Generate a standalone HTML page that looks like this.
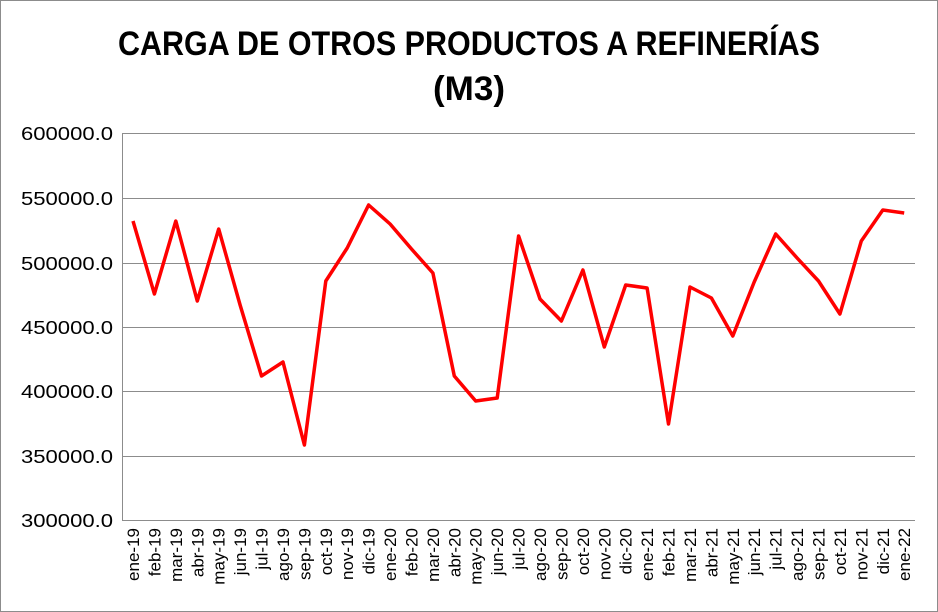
<!DOCTYPE html>
<html><head><meta charset="utf-8"><style>
body{margin:0;background:#fff;}
svg{display:block;font-family:"Liberation Sans",Arial,sans-serif;}
</style></head><body>
<svg width="938" height="612" xmlns="http://www.w3.org/2000/svg">
<rect x="0.5" y="0.5" width="937" height="611" fill="#fff" stroke="#8c8c8c"/>
<text x="469" y="55" text-anchor="middle" font-size="34" font-weight="bold" textLength="702" lengthAdjust="spacingAndGlyphs">CARGA DE OTROS PRODUCTOS A REFINERÍAS</text>
<text x="469" y="100" text-anchor="middle" font-size="34" font-weight="bold" textLength="72" lengthAdjust="spacingAndGlyphs">(M3)</text>
<g stroke="#8c8c8c" stroke-width="1">
<line x1="122" y1="133.5" x2="915" y2="133.5"/>
<line x1="122" y1="198.5" x2="915" y2="198.5"/>
<line x1="122" y1="263.5" x2="915" y2="263.5"/>
<line x1="122" y1="327.5" x2="915" y2="327.5"/>
<line x1="122" y1="391.5" x2="915" y2="391.5"/>
<line x1="122" y1="456.5" x2="915" y2="456.5"/>
<line x1="122" y1="520.5" x2="915" y2="520.5"/>
<line x1="122.5" y1="133" x2="122.5" y2="520"/>
</g>
<g font-size="18" text-anchor="end">
<text x="113" y="140" textLength="92" lengthAdjust="spacingAndGlyphs">600000.0</text>
<text x="113" y="205" textLength="92" lengthAdjust="spacingAndGlyphs">550000.0</text>
<text x="113" y="270" textLength="92" lengthAdjust="spacingAndGlyphs">500000.0</text>
<text x="113" y="334" textLength="92" lengthAdjust="spacingAndGlyphs">450000.0</text>
<text x="113" y="398" textLength="92" lengthAdjust="spacingAndGlyphs">400000.0</text>
<text x="113" y="463" textLength="92" lengthAdjust="spacingAndGlyphs">350000.0</text>
<text x="113" y="527" textLength="92" lengthAdjust="spacingAndGlyphs">300000.0</text>
</g>
<polyline fill="none" stroke="#ff0000" stroke-width="3.5" stroke-linejoin="round" points="133,221 154.4,294 175.8,221 197.3,301 218.7,229 240.1,305 261.5,376 283,362 304.4,445 325.8,281 347.2,248 368.6,205 390.1,224 411.5,249 432.9,273 454.3,376 475.7,401 497.2,398 518.6,236 540,299 561.4,321 582.9,270 604.3,347 625.7,285 647.1,288 668.5,424 690,287 711.4,298 732.8,336 754.2,282 775.7,234 797.1,258 818.5,281 839.9,314 861.3,241 882.8,210 904.2,213"/>
<g font-size="17" text-anchor="end">
<text transform="translate(139,528) rotate(-90)">ene-19</text>
<text transform="translate(160.4,528) rotate(-90)">feb-19</text>
<text transform="translate(181.8,528) rotate(-90)">mar-19</text>
<text transform="translate(203.3,528) rotate(-90)">abr-19</text>
<text transform="translate(224.7,528) rotate(-90)">may-19</text>
<text transform="translate(246.1,528) rotate(-90)">jun-19</text>
<text transform="translate(267.5,528) rotate(-90)">jul-19</text>
<text transform="translate(289,528) rotate(-90)">ago-19</text>
<text transform="translate(310.4,528) rotate(-90)">sep-19</text>
<text transform="translate(331.8,528) rotate(-90)">oct-19</text>
<text transform="translate(353.2,528) rotate(-90)">nov-19</text>
<text transform="translate(374.6,528) rotate(-90)">dic-19</text>
<text transform="translate(396.1,528) rotate(-90)">ene-20</text>
<text transform="translate(417.5,528) rotate(-90)">feb-20</text>
<text transform="translate(438.9,528) rotate(-90)">mar-20</text>
<text transform="translate(460.3,528) rotate(-90)">abr-20</text>
<text transform="translate(481.7,528) rotate(-90)">may-20</text>
<text transform="translate(503.2,528) rotate(-90)">jun-20</text>
<text transform="translate(524.6,528) rotate(-90)">jul-20</text>
<text transform="translate(546,528) rotate(-90)">ago-20</text>
<text transform="translate(567.4,528) rotate(-90)">sep-20</text>
<text transform="translate(588.9,528) rotate(-90)">oct-20</text>
<text transform="translate(610.3,528) rotate(-90)">nov-20</text>
<text transform="translate(631.7,528) rotate(-90)">dic-20</text>
<text transform="translate(653.1,528) rotate(-90)">ene-21</text>
<text transform="translate(674.5,528) rotate(-90)">feb-21</text>
<text transform="translate(696,528) rotate(-90)">mar-21</text>
<text transform="translate(717.4,528) rotate(-90)">abr-21</text>
<text transform="translate(738.8,528) rotate(-90)">may-21</text>
<text transform="translate(760.2,528) rotate(-90)">jun-21</text>
<text transform="translate(781.7,528) rotate(-90)">jul-21</text>
<text transform="translate(803.1,528) rotate(-90)">ago-21</text>
<text transform="translate(824.5,528) rotate(-90)">sep-21</text>
<text transform="translate(845.9,528) rotate(-90)">oct-21</text>
<text transform="translate(867.3,528) rotate(-90)">nov-21</text>
<text transform="translate(888.8,528) rotate(-90)">dic-21</text>
<text transform="translate(910.2,528) rotate(-90)">ene-22</text>
</g>
</svg>
</body></html>
